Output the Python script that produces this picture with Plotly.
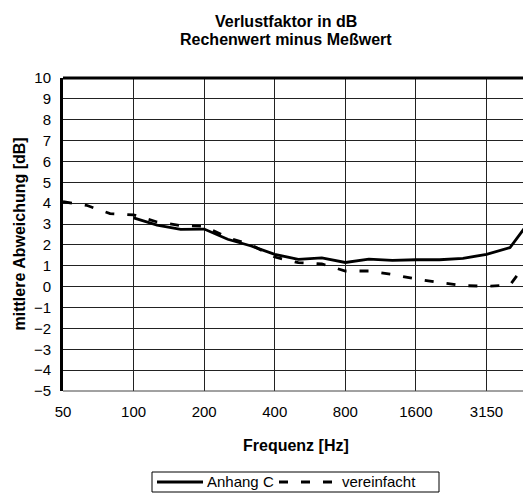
import plotly.graph_objects as go

freqs = ["50", "63", "80", "100", "125", "160", "200", "250", "315", "400", "500",
         "630", "800", "1000", "1250", "1600", "2000", "2500", "3150", "4000", "5000"]
anhang_c = [None, None, None, 3.30, 2.95, 2.75, 2.76, 2.27, 1.95, 1.55, 1.31,
            1.38, 1.16, 1.32, 1.26, 1.29, 1.29, 1.36, 1.55, 1.87, 3.40]
vereinfacht = [4.07, 3.90, 3.50, 3.44, 3.10, 2.93, 2.90, 2.35, 2.00, 1.42, 1.15,
               1.09, 0.75, 0.75, 0.58, 0.37, 0.20, 0.05, 0.02, 0.08, 1.60]
tick_labels = ["50", "100", "200", "400", "800", "1600", "3150"]
series_names = ["Anhang C", "vereinfacht"]

idx = list(range(len(freqs)))
tick_idx = [freqs.index(t) for t in tick_labels]

FONT = "Liberation Sans, Arial, sans-serif"
DASH = "9px,13px"
W, H = 523, 493
L, T = 63, 78
PW, PH = 460, 313
B = H - T - PH

def px_y(page_y):
    return (T + PH - page_y) / PH

def px_x(page_x):
    return (page_x - L) / PW

fig = go.Figure()
fig.add_trace(go.Scatter(x=idx, y=anhang_c, mode="lines", name=series_names[0],
                         line=dict(color="black", width=2.8), connectgaps=False,
                         showlegend=False))
fig.add_trace(go.Scatter(x=idx, y=vereinfacht, mode="lines", name=series_names[1],
                         line=dict(color="black", width=2.8, dash=DASH),
                         showlegend=False))

# compact Excel-style legend drawn as shapes + text
LEG_Y = 482
legend_shapes = [
    dict(type="rect", xref="paper", yref="paper", x0=px_x(152), x1=px_x(439),
         y0=px_y(472), y1=px_y(492), line=dict(color="black", width=1), fillcolor="white"),
    dict(type="line", xref="paper", yref="paper", x0=px_x(157), x1=px_x(203),
         y0=px_y(LEG_Y), y1=px_y(LEG_Y), line=dict(color="black", width=2.8)),
    dict(type="line", xref="paper", yref="paper", x0=px_x(279), x1=px_x(332),
         y0=px_y(LEG_Y), y1=px_y(LEG_Y), line=dict(color="black", width=2.8, dash=DASH)),
]
legend_texts = [
    dict(text=series_names[0], xref="paper", yref="paper", x=px_x(205), y=px_y(LEG_Y),
         xanchor="left", yanchor="middle", showarrow=False, font=dict(size=15)),
    dict(text=series_names[1], xref="paper", yref="paper", x=px_x(340), y=px_y(LEG_Y),
         xanchor="left", yanchor="middle", showarrow=False, font=dict(size=15)),
]

fig.update_layout(
    width=W, height=H,
    margin=dict(l=L, r=0, t=T, b=B, pad=0),
    paper_bgcolor="white", plot_bgcolor="white",
    font=dict(family=FONT, color="black", size=15),
    showlegend=False,
    xaxis=dict(range=[0, 19.55], tickmode="array", tickvals=tick_idx, ticktext=tick_labels,
               showgrid=True, gridcolor="#222", gridwidth=1, zeroline=False,
               ticks="", showline=False, tickfont=dict(size=15), ticklabelstandoff=10),
    yaxis=dict(range=[-5, 10], dtick=1, tick0=0, showgrid=True, gridcolor="#222", gridwidth=1,
               zeroline=False, ticks="", showline=True, linecolor="black", linewidth=3,
               tickfont=dict(size=15), ticklabelstandoff=6),
    annotations=[
        dict(text="<b>mittlere Abweichung [dB]</b>", xref="paper", yref="paper",
             x=px_x(19), y=0.5, xanchor="center", yanchor="middle",
             textangle=-90, showarrow=False, font=dict(size=16)),
        dict(text="<b>Frequenz [Hz]</b>", xref="paper", yref="paper",
             x=px_x(296), y=px_y(445), xanchor="center", yanchor="middle",
             showarrow=False, font=dict(size=16)),
        dict(text="<b>Verlustfaktor in dB</b>", xref="paper", yref="paper",
             x=px_x(286), y=px_y(22), xanchor="center", yanchor="middle",
             showarrow=False, font=dict(size=16)),
        dict(text="<b>Rechenwert minus Meßwert</b>", xref="paper", yref="paper",
             x=px_x(286), y=px_y(39.5), xanchor="center", yanchor="middle",
             showarrow=False, font=dict(size=16)),
    ] + legend_texts,
    shapes=[
        dict(type="line", xref="paper", yref="paper", x0=0, x1=1, y0=1, y1=1,
             line=dict(color="black", width=3)),
        dict(type="line", xref="paper", yref="paper", x0=0, x1=1, y0=0, y1=0,
             line=dict(color="#444", width=1)),
    ] + legend_shapes,
)

fig.write_html("out.html",
               config={"displayModeBar": False},
               post_script="document.body.style.margin='0';document.body.style.overflow='hidden';")
